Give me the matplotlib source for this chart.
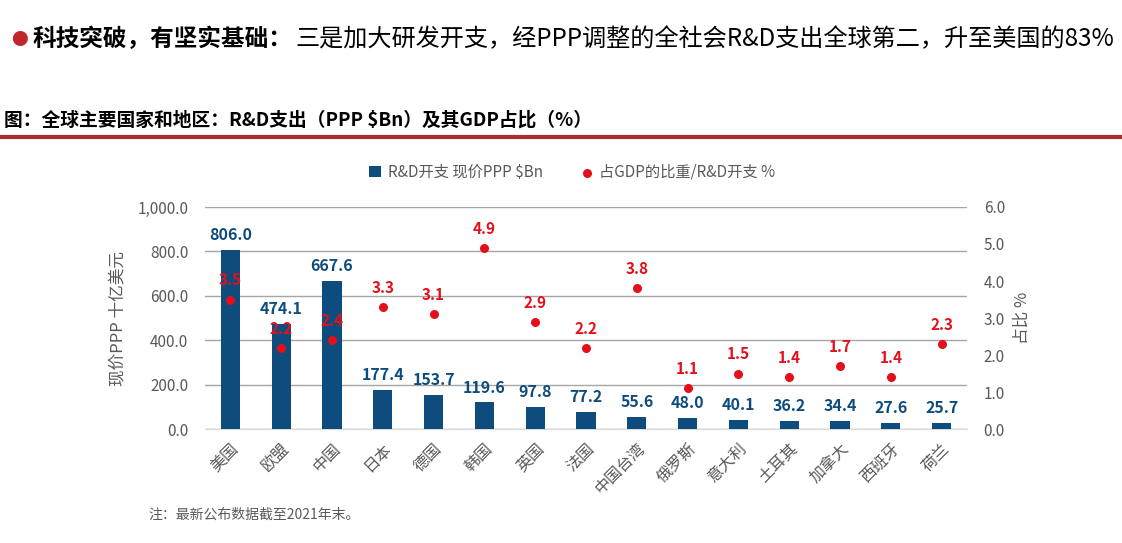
import numpy as np
import matplotlib
matplotlib.use("Agg")
import matplotlib.pyplot as plt

plt.rcParams['font.family'] = ['Noto Sans CJK SC', 'DejaVu Sans']

# data
regions = ['美国', '欧盟', '中国', '日本', '德国', '韩国', '英国', '法国',
           '中国台湾', '俄罗斯', '意大利', '土耳其', '加拿大', '西班牙', '荷兰']
rd_spend = [806.0, 474.1, 667.6, 177.4, 153.7, 119.6, 97.8, 77.2,
            55.6, 48.0, 40.1, 36.2, 34.4, 27.6, 25.7]
gdp_share = [3.5, 2.2, 2.4, 3.3, 3.1, 4.9, 2.9, 2.2,
             3.8, 1.1, 1.5, 1.4, 1.7, 1.4, 2.3]
left_ticks = [0, 200, 400, 600, 800, 1000]
right_ticks = [0, 1, 2, 3, 4, 5, 6]

blue = '#0E4C7E'
red = '#E3101C'
gray = '#595959'

fig = plt.figure(figsize=(11.22, 5.43), dpi=100)

# header
fig.text(0.010, 0.926, '●', color='#C0272D', fontsize=12, va='center')
fig.text(0.029, 0.928, '科技突破，有坚实基础：', fontsize=17, fontweight='bold',
         color='black', va='center')
fig.text(0.263, 0.928, '三是加大研发开支，经PPP调整的全社会R&D支出全球第二，升至美国的83%',
         fontsize=17.4, color='black', va='center')
fig.text(0.004, 0.779, '图：全球主要国家和地区：R&D支出（PPP $Bn）及其GDP占比（%）',
         fontsize=13.5, fontweight='bold', color='black', va='center')
fig.add_artist(plt.Line2D([0, 1], [0.747, 0.747], color='#A8302B', lw=3))

ax = fig.add_axes([0.1827, 0.2099, 0.6792, 0.4089])
x = np.arange(len(regions))
bars = ax.bar(x, rd_spend, width=0.38, color=blue, zorder=3,
              label='R&D开支 现价PPP $Bn')
for xi, v in zip(x, rd_spend):
    ax.annotate(f'{v:.1f}', (xi, v), xytext=(0, 5), textcoords='offset points',
                ha='center', va='bottom', fontsize=11.5, fontweight='bold',
                color=blue, zorder=6)

ax.set_xlim(-0.5, len(regions) - 0.5)
ax.set_ylim(0, 1000)
ax.set_yticks(left_ticks)
ax.set_yticklabels([f'{t:,.1f}' for t in left_ticks])
ax.grid(axis='y', color='#A6A6A6', lw=1, zorder=0)
for s in ['top', 'right', 'left']:
    ax.spines[s].set_visible(False)
ax.spines['bottom'].set_color('#D9D9D9')
ax.tick_params(axis='both', length=0, labelsize=11, labelcolor=gray)
ax.tick_params(axis='y', pad=12)
ax.set_xticks(x)
ax.set_xticklabels(regions, rotation=45, ha='right', rotation_mode='anchor',
                   fontsize=11.5)
ax.tick_params(axis='x', pad=8)
ax.set_ylabel('现价PPP 十亿美元', fontsize=12, color=gray, labelpad=8)

ax2 = ax.twinx()
ax2.scatter(x, gdp_share, s=30, color=red, zorder=5,
            label='占GDP的比重/R&D开支 %')
for xi, v in zip(x, gdp_share):
    ax2.annotate(f'{v:.1f}', (xi, v), xytext=(0, 8), textcoords='offset points',
                 ha='center', va='bottom', fontsize=11, fontweight='bold',
                 color=red, zorder=6)
ax2.set_ylim(0, 6)
ax2.set_yticks(right_ticks)
ax2.set_yticklabels([f'{t:.1f}' for t in right_ticks])
for s in ['top', 'right', 'left', 'bottom']:
    ax2.spines[s].set_visible(False)
ax2.tick_params(axis='y', length=0, labelsize=11, labelcolor=gray, pad=12)
ax2.set_ylabel('占比 %', fontsize=12, color=gray, labelpad=6)

h1, l1 = ax.get_legend_handles_labels()
h2, l2 = ax2.get_legend_handles_labels()
fig.legend(h1 + h2, l1 + l2, loc='center', bbox_to_anchor=(0.51, 0.683),
           ncol=2, frameon=False, fontsize=11, labelcolor=gray,
           handlelength=0.8, handletextpad=0.4, columnspacing=2.5)

fig.text(0.132, 0.052, '注：最新公布数据截至2021年末。', fontsize=10, style='italic',
         color=gray, va='center')

fig.savefig('out.png', dpi=100)
